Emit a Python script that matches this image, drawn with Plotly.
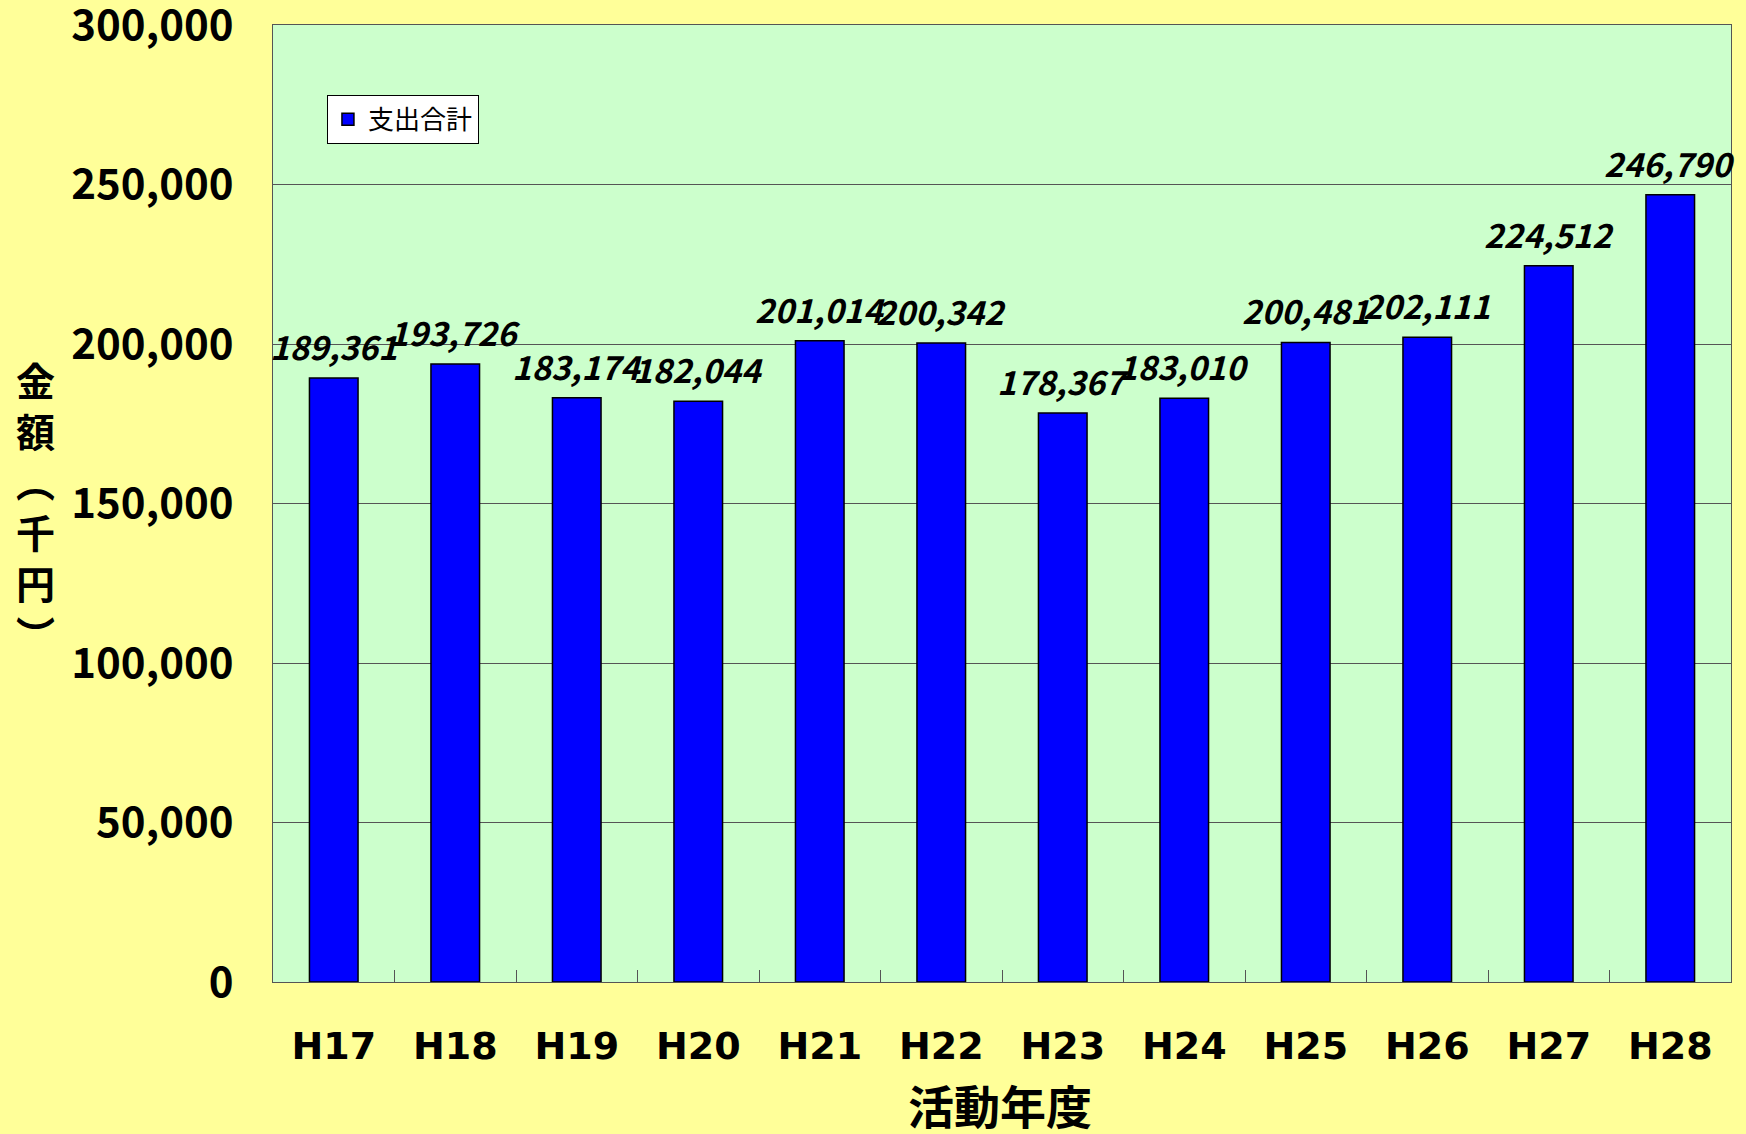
import plotly.graph_objects as go

categories = ["H17", "H18", "H19", "H20", "H21", "H22", "H23", "H24", "H25", "H26", "H27", "H28"]
values = [189361, 193726, 183174, 182044, 201014, 200342, 178367, 183010, 200481, 202111, 224512, 246790]
series_name = "支出合計"
y_ticks = [0, 50000, 100000, 150000, 200000, 250000, 300000]
y_tick_labels = [f"{v:,}" for v in y_ticks]

FONT = "Noto Sans CJK JP"

fig = go.Figure()
fig.add_trace(go.Bar(
    x=categories, y=values, name=series_name,
    marker=dict(color="#0000FF", line=dict(color="#000000", width=1.5)),
    showlegend=True,
))

for c, v in zip(categories, values):
    fig.add_annotation(
        x=c, y=v, xref="x", yref="y", text=f"{v:,}", showarrow=False,
        xanchor="center", yanchor="bottom", yshift=6,
        font=dict(family=FONT, size=33, color="#000000", style="italic", weight="bold"),
    )

fig.add_annotation(
    x=-0.1626, y=0.497, xref="paper", yref="paper",
    xanchor="center", yanchor="middle",
    text="金<br>額<br>︵<br>千<br>円<br>︶", showarrow=False,
    font=dict(family=FONT, size=39, color="#000000", weight="bold"),
    align="center",
)
fig.add_annotation(
    x=0.4986, y=-0.127, xref="paper", yref="paper",
    xanchor="center", yanchor="middle",
    text="活動年度", showarrow=False,
    font=dict(family=FONT, size=46, color="#000000", weight="bold"),
)

fig.update_layout(
    width=1746, height=1134,
    margin=dict(l=273, r=15, t=25, b=152, autoexpand=False),
    paper_bgcolor="#FFFF99", plot_bgcolor="#CCFFCC",
    bargap=0.6,
    font=dict(family=FONT, color="#000000"),
    legend=dict(
        x=0.037, y=0.927, xanchor="left", yanchor="top",
        bgcolor="#FFFFFF", bordercolor="#000000", borderwidth=1,
        font=dict(family=FONT, size=26, color="#000000"),
        itemwidth=30, tracegroupgap=0,
    ),
    xaxis=dict(
        type="category", showgrid=False, range=[-0.5, len(categories) - 0.5],
        autorange=False,
        showline=True, linecolor="#555555", linewidth=1, mirror=True,
        ticks="inside", tickson="boundaries", ticklen=12, tickcolor="#555555",
        tickfont=dict(family="DejaVu Sans", size=38, weight="bold", color="#000000"),
        ticklabelstandoff=30,
    ),
    yaxis=dict(
        range=[0, 300000], autorange=False, tickvals=y_ticks, ticktext=y_tick_labels,
        showgrid=True, gridcolor="#555555", gridwidth=1,
        showline=True, linecolor="#555555", linewidth=1, mirror=True,
        ticks="inside", ticklen=12, tickcolor="#555555",
        tickfont=dict(family=FONT, size=42, weight="bold", color="#000000"),
        ticklabelstandoff=30, zeroline=False, ticklabeloverflow="allow",
    ),
)

fig.write_html(
    "out.html",
    config={"displayModeBar": False},
    post_script="document.body.style.margin='0';document.body.style.overflow='hidden';",
)
